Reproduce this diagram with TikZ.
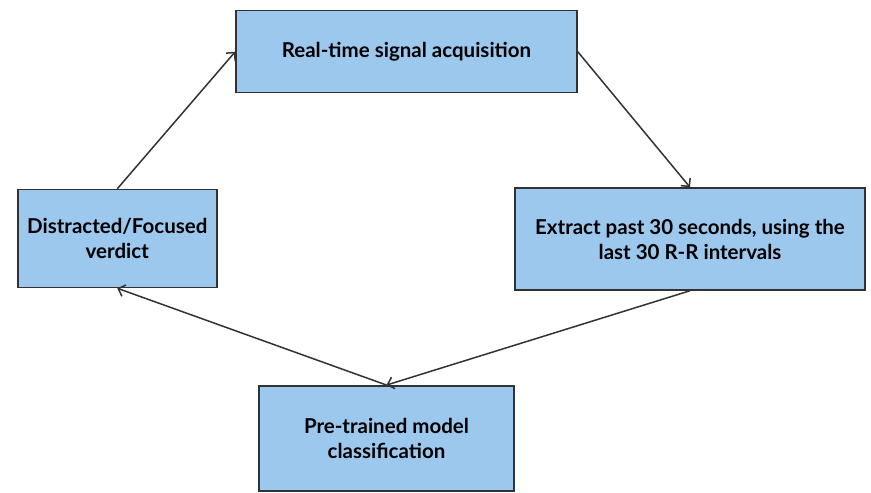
\documentclass[tikz,border=0pt]{standalone}
\usepackage{fontspec}
\setmainfont{Lato}
\usetikzlibrary{arrows.meta,positioning}
\definecolor{boxblue}{RGB}{156,200,238}
\definecolor{edgegray}{RGB}{50,50,50}

\begin{document}
\begin{tikzpicture}[x=1pt,y=-1pt,
    stage/.style={
    % The shape:
    rectangle,inner sep=0pt,
    % The rest
    line width=1.5pt,draw=edgegray,fill=boxblue,
    align=center,font=\fontsize{20.5}{25}\selectfont\bfseries},
    flow/.style={-{Straight Barb[length=6pt,width=12pt]},line width=1.5pt,draw=edgegray}]
    \useasboundingbox (0,0) rectangle (871,493);
    \node (acquire) [stage,minimum width=341pt,minimum height=82pt] at (406.5,51.7) {Real-time signal acquisition};
    \node (extract) [stage,minimum width=350pt,minimum height=102pt] at (690,239) {Extract past 30 seconds, using the\\last 30 R-R intervals};
    \node (model) [stage,minimum width=255pt,minimum height=105pt] at (386.5,438.3) {Pre-trained model\\classification};
    \node (verdict) [stage,minimum width=199pt,minimum height=98pt] at (117.3,238.5) {Distracted/Focused\\verdict};
    \draw [flow] (acquire.east) -- (extract.north);
    \draw [flow] (extract.south) -- (model.north);
    \draw [flow] (model.north) -- (verdict.south);
    \draw [flow] (verdict.north) -- (acquire.west);
\end{tikzpicture}
\end{document}
